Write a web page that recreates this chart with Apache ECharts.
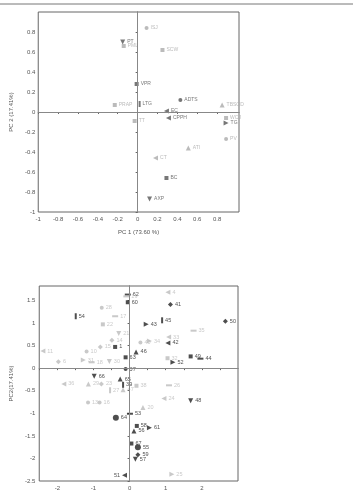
<!DOCTYPE html>
<html>
<head>
<meta charset="utf-8">
<script src="https://cdn.jsdelivr.net/npm/echarts@6/dist/echarts.min.js"></script>
<style>
  html, body { margin: 0; padding: 0; background: #fff; }
  #main { width: 353px; height: 491px; }
</style>
</head>
<body>
<div id="main"></div>
<script>
// loadings (top plot)
const loadNames = ['ISJ','SCW','PT','PML','VPR','LTG','PRAP','TT','ADTS','TBSOD','EC','CPPH','WCJ','TG','PV','ATI','CT','BC','AXP'];
const pc1Load = [0.09, 0.25, -0.15, -0.14, -0.01, 0.02, -0.23, -0.03, 0.43, 0.85, 0.29, 0.31, 0.89, 0.89, 0.89, 0.51, 0.18, 0.29, 0.12];
const pc2Load = [0.84, 0.62, 0.70, 0.66, 0.28, 0.08, 0.07, -0.09, 0.12, 0.07, 0.01, -0.06, -0.06, -0.11, -0.27, -0.36, -0.46, -0.66, -0.87];
const loadXTicks = [-1, -0.8, -0.6, -0.4, -0.2, 0, 0.2, 0.4, 0.6, 0.8];
const loadYTicks = [-1, -0.8, -0.6, -0.4, -0.2, 0, 0.2, 0.4, 0.6, 0.8];

// scores (bottom plot)
const scoreIds = ['62','19','60','28','54','17','22','21','14','15','1','11','10','6','31','18','30','63','46','37',
  '4','41','45','43','50','35','33','34','40','42','32','52','49','44',
  '66','65','39','47','36','29','23','27','16','13','64','53','38','26','24','48','20',
  '58','61','56','67','55','59','57','51','25'];
const pc1Score = [-0.05,-0.09,-0.05,-0.77,-1.49,-0.40,-0.74,-0.30,-0.49,-0.81,-0.40,-2.40,-1.19,-1.97,-1.28,-1.05,-0.56,-0.11,0.18,-0.11,
  1.06,1.13,0.90,0.46,2.65,1.77,1.08,0.55,0.30,1.06,1.05,1.20,1.69,1.96,
  -0.98,-0.26,-0.18,-0.18,-1.82,-1.14,-0.78,-0.54,-0.83,-1.15,-0.38,0.01,0.19,1.09,0.95,1.69,0.37,
  0.20,0.55,0.12,0.05,0.23,0.23,0.16,-0.14,1.17];
const pc2Score = [1.63,1.59,1.46,1.34,1.15,1.15,0.97,0.77,0.62,0.47,0.47,0.38,0.37,0.14,0.18,0.13,0.15,0.24,0.36,-0.02,
  1.68,1.41,1.06,0.97,1.04,0.83,0.69,0.60,0.57,0.56,0.22,0.13,0.26,0.21,
  -0.18,-0.24,-0.37,-0.48,-0.35,-0.35,-0.35,-0.49,-0.76,-0.76,-1.10,-1.01,-0.39,-0.38,-0.67,-0.72,-0.87,
  -1.28,-1.32,-1.39,-1.67,-1.75,-1.92,-2.02,-2.37,-2.35];
const scoreXLabels = [-2, -1, 0, 1, 2];
const scoreXTicks = [-2.5, -2, -1.5, -1, -0.5, 0, 0.5, 1, 1.5, 2, 2.5];
const scoreYTicks = [-2.5, -2, -1.5, -1, -0.5, 0, 0.5, 1, 1.5];

// marker styling
const loadMarker = {ISJ:'circle',SCW:'rect',PT:'down',PML:'rect',VPR:'rect',LTG:'vbar',PRAP:'rect',TT:'rect',ADTS:'circle',
  TBSOD:'triangle',EC:'left',CPPH:'left',WCJ:'rect',TG:'right',PV:'circle',ATI:'triangle',CT:'left',BC:'rect',AXP:'down'};
const loadGrey = ['ISJ','SCW','PML','PRAP','TT','TBSOD','WCJ','PV','ATI','CT'];
const scoreMarker = {'62':'hbar','19':'hbar','60':'rect','28':'circle','54':'vbar','17':'hbar','22':'rect','21':'down','14':'diamond',
  '15':'diamond','1':'rect','11':'left','10':'circle','6':'diamond','31':'right','18':'hbar','30':'down','63':'rect','46':'triangle',
  '37':'circle','4':'left','41':'diamond','45':'vbar','43':'right','50':'diamond','35':'hbar','33':'left','34':'right','40':'circle',
  '42':'left','32':'rect','52':'right','49':'rect','44':'hbar','66':'down','65':'triangle','39':'vbar','47':'triangle','36':'left',
  '29':'triangle','23':'diamond','27':'vbar','16':'circle','13':'circle','64':'bigcircle','53':'hbar','38':'rect','26':'hbar',
  '24':'left','48':'down','20':'triangle','58':'rect','61':'right','56':'triangle','67':'rect','55':'bigcircle','59':'diamond',
  '57':'down','51':'left','25':'right'};
const scoreGrey = ['19','28','17','22','21','14','15','11','10','6','31','18','30','4','35','33','34','40','32',
  '47','36','29','23','27','16','13','38','26','24','20','25'];

const shapes = {
  circle: {symbol: 'circle', symbolSize: 4},
  bigcircle: {symbol: 'circle', symbolSize: 6},
  rect: {symbol: 'rect', symbolSize: 4},
  triangle: {symbol: 'triangle', symbolSize: 5},
  down: {symbol: 'triangle', symbolSize: 5, symbolRotate: 180},
  left: {symbol: 'triangle', symbolSize: 5, symbolRotate: 90},
  right: {symbol: 'triangle', symbolSize: 5, symbolRotate: -90},
  diamond: {symbol: 'diamond', symbolSize: 5},
  hbar: {symbol: 'rect', symbolSize: [6, 2]},
  vbar: {symbol: 'rect', symbolSize: [2, 6]}
};

function buildPoints(names, xs, ys, markers, greys, dark, grey) {
  return names.map((n, i) => {
    const c = greys.includes(n) ? grey : dark;
    const item = Object.assign({name: n, value: [xs[i], ys[i]]}, shapes[markers[n]]);
    item.itemStyle = {color: c};
    item.label = {color: c, position: n === '51' ? 'left' : 'right'};
    return item;
  });
}

const chart = echarts.init(document.getElementById('main'), null, {renderer: 'canvas'});
const fmt = v => String(v);
const axisText = {fontSize: 6, color: '#555', fontFamily: 'Liberation Sans'};
const zeroLine = {
  silent: true, symbol: 'none', label: {show: false},
  lineStyle: {color: '#888', width: 1, type: 'solid'},
  data: [{xAxis: 0}, {yAxis: 0}]
};

const option = {
  animation: false,
  graphic: [{type: 'line', shape: {x1: 0, y1: 4, x2: 353, y2: 4}, style: {stroke: '#777', lineWidth: 1}}],
  grid: [
    {left: 38, top: 12, width: 201, height: 200, show: true, borderColor: '#666', borderWidth: 1},
    {left: 33, top: 286, width: 205, height: 195, show: true, borderColor: '#666', borderWidth: 1}
  ],
  xAxis: [
    {
      gridIndex: 0, type: 'value', min: -1, max: 1.02,
      name: 'PC 1 (73.60 %)', nameLocation: 'middle', nameGap: 17,
      nameTextStyle: {fontSize: 6, color: '#555', fontFamily: 'Liberation Sans'},
      axisLine: {lineStyle: {color: '#666'}},
      axisTick: {length: 2, customValues: loadXTicks, lineStyle: {color: '#666'}},
      axisLabel: Object.assign({customValues: loadXTicks, formatter: fmt, margin: 4}, axisText),
      splitLine: {show: false}
    },
    {
      gridIndex: 1, type: 'value', min: -2.5, max: 3,
      axisLine: {lineStyle: {color: '#666'}},
      axisTick: {length: 2, customValues: scoreXTicks, lineStyle: {color: '#666'}},
      axisLabel: Object.assign({customValues: scoreXLabels, formatter: fmt, margin: 4}, axisText),
      splitLine: {show: false}
    }
  ],
  yAxis: [
    {
      gridIndex: 0, type: 'value', min: -1, max: 1,
      name: 'PC 2 (17.41%)', nameLocation: 'middle', nameGap: 18,
      nameTextStyle: {fontSize: 6, color: '#555', fontFamily: 'Liberation Sans'},
      axisLine: {lineStyle: {color: '#666'}},
      axisTick: {length: 2, customValues: loadYTicks, lineStyle: {color: '#666'}},
      axisLabel: Object.assign({customValues: loadYTicks, formatter: fmt, margin: 3}, axisText),
      splitLine: {show: false}
    },
    {
      gridIndex: 1, type: 'value', min: -2.5, max: 1.82,
      name: 'PC2(17.41%)', nameLocation: 'middle', nameGap: 18,
      nameTextStyle: {fontSize: 6, color: '#555', fontFamily: 'Liberation Sans'},
      axisLine: {lineStyle: {color: '#666'}},
      axisTick: {length: 2, customValues: scoreYTicks, lineStyle: {color: '#666'}},
      axisLabel: Object.assign({customValues: scoreYTicks, formatter: fmt, margin: 4}, axisText),
      splitLine: {show: false}
    }
  ],
  series: [
    {
      type: 'scatter', xAxisIndex: 0, yAxisIndex: 0,
      data: buildPoints(loadNames, pc1Load, pc2Load, loadMarker, loadGrey, '#555', '#aaa'),
      label: {show: true, formatter: '{b}', fontSize: 5, distance: 2, fontFamily: 'Liberation Sans'},
      markLine: zeroLine
    },
    {
      type: 'scatter', xAxisIndex: 1, yAxisIndex: 1,
      data: buildPoints(scoreIds, pc1Score, pc2Score, scoreMarker, scoreGrey, '#222', '#bbb'),
      label: {show: true, formatter: '{b}', fontSize: 5.5, distance: 2, fontFamily: 'Liberation Sans'},
      markLine: zeroLine
    }
  ]
};
chart.setOption(option);
</script>
</body>
</html>
